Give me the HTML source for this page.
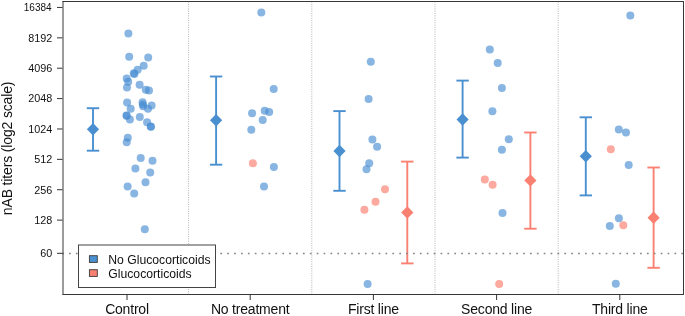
<!DOCTYPE html><html><head><meta charset="utf-8"><style>html,body{margin:0;padding:0;background:#fff;}svg{display:block;}text{font-family:"Liberation Sans",sans-serif;}</style></head><body>
<div style="will-change:transform;width:685px;height:316px"><svg width="685" height="316" viewBox="0 0 685 316">
<rect width="685" height="316" fill="#fff"/>
<line x1="188.6" y1="1.5" x2="188.6" y2="294" stroke="#b4b4b4" stroke-width="1" stroke-dasharray="1 1.3"/>
<line x1="311.8" y1="1.5" x2="311.8" y2="294" stroke="#b4b4b4" stroke-width="1" stroke-dasharray="1 1.3"/>
<line x1="435.0" y1="1.5" x2="435.0" y2="294" stroke="#b4b4b4" stroke-width="1" stroke-dasharray="1 1.3"/>
<line x1="558.2" y1="1.5" x2="558.2" y2="294" stroke="#b4b4b4" stroke-width="1" stroke-dasharray="1 1.3"/>
<circle cx="128.40" cy="33.60" r="4" fill="rgba(72,142,210,0.65)"/>
<circle cx="129.20" cy="56.80" r="4" fill="rgba(72,142,210,0.65)"/>
<circle cx="148.20" cy="57.60" r="4" fill="rgba(72,142,210,0.65)"/>
<circle cx="143.70" cy="65.80" r="4" fill="rgba(72,142,210,0.65)"/>
<circle cx="137.60" cy="69.80" r="4" fill="rgba(72,142,210,0.65)"/>
<circle cx="133.80" cy="73.20" r="4" fill="rgba(72,142,210,0.65)"/>
<circle cx="134.40" cy="74.00" r="4" fill="rgba(72,142,210,0.65)"/>
<circle cx="126.70" cy="78.40" r="4" fill="rgba(72,142,210,0.65)"/>
<circle cx="128.20" cy="81.70" r="4" fill="rgba(72,142,210,0.65)"/>
<circle cx="127.00" cy="87.40" r="4" fill="rgba(72,142,210,0.65)"/>
<circle cx="139.60" cy="84.70" r="4" fill="rgba(72,142,210,0.65)"/>
<circle cx="145.80" cy="89.70" r="4" fill="rgba(72,142,210,0.65)"/>
<circle cx="149.00" cy="90.50" r="4" fill="rgba(72,142,210,0.65)"/>
<circle cx="127.10" cy="102.50" r="4" fill="rgba(72,142,210,0.65)"/>
<circle cx="130.70" cy="108.80" r="4" fill="rgba(72,142,210,0.65)"/>
<circle cx="142.60" cy="102.20" r="4" fill="rgba(72,142,210,0.65)"/>
<circle cx="142.80" cy="104.50" r="4" fill="rgba(72,142,210,0.65)"/>
<circle cx="143.20" cy="106.30" r="4" fill="rgba(72,142,210,0.65)"/>
<circle cx="148.00" cy="108.70" r="4" fill="rgba(72,142,210,0.65)"/>
<circle cx="151.60" cy="105.60" r="4" fill="rgba(72,142,210,0.65)"/>
<circle cx="126.50" cy="115.40" r="4" fill="rgba(72,142,210,0.65)"/>
<circle cx="126.70" cy="115.70" r="4" fill="rgba(72,142,210,0.65)"/>
<circle cx="129.90" cy="119.60" r="4" fill="rgba(72,142,210,0.65)"/>
<circle cx="139.80" cy="117.00" r="4" fill="rgba(72,142,210,0.65)"/>
<circle cx="147.10" cy="122.30" r="4" fill="rgba(72,142,210,0.65)"/>
<circle cx="150.80" cy="126.60" r="4" fill="rgba(72,142,210,0.65)"/>
<circle cx="150.90" cy="126.70" r="4" fill="rgba(72,142,210,0.65)"/>
<circle cx="127.80" cy="137.80" r="4" fill="rgba(72,142,210,0.65)"/>
<circle cx="126.70" cy="142.20" r="4" fill="rgba(72,142,210,0.65)"/>
<circle cx="140.70" cy="158.10" r="4" fill="rgba(72,142,210,0.65)"/>
<circle cx="152.50" cy="160.70" r="4" fill="rgba(72,142,210,0.65)"/>
<circle cx="135.40" cy="168.40" r="4" fill="rgba(72,142,210,0.65)"/>
<circle cx="150.20" cy="172.40" r="4" fill="rgba(72,142,210,0.65)"/>
<circle cx="145.50" cy="182.30" r="4" fill="rgba(72,142,210,0.65)"/>
<circle cx="127.60" cy="186.50" r="4" fill="rgba(72,142,210,0.65)"/>
<circle cx="134.20" cy="193.40" r="4" fill="rgba(72,142,210,0.65)"/>
<circle cx="144.80" cy="229.30" r="4" fill="rgba(72,142,210,0.65)"/>
<circle cx="261.30" cy="12.50" r="4" fill="rgba(72,142,210,0.65)"/>
<circle cx="273.70" cy="89.00" r="4" fill="rgba(72,142,210,0.65)"/>
<circle cx="252.10" cy="113.20" r="4" fill="rgba(72,142,210,0.65)"/>
<circle cx="264.70" cy="110.80" r="4" fill="rgba(72,142,210,0.65)"/>
<circle cx="269.20" cy="111.90" r="4" fill="rgba(72,142,210,0.65)"/>
<circle cx="262.70" cy="120.00" r="4" fill="rgba(72,142,210,0.65)"/>
<circle cx="251.30" cy="129.80" r="4" fill="rgba(72,142,210,0.65)"/>
<circle cx="273.90" cy="167.10" r="4" fill="rgba(72,142,210,0.65)"/>
<circle cx="264.00" cy="186.60" r="4" fill="rgba(72,142,210,0.65)"/>
<circle cx="370.80" cy="61.80" r="4" fill="rgba(72,142,210,0.65)"/>
<circle cx="368.60" cy="98.90" r="4" fill="rgba(72,142,210,0.65)"/>
<circle cx="372.40" cy="139.40" r="4" fill="rgba(72,142,210,0.65)"/>
<circle cx="377.10" cy="146.80" r="4" fill="rgba(72,142,210,0.65)"/>
<circle cx="369.20" cy="163.30" r="4" fill="rgba(72,142,210,0.65)"/>
<circle cx="366.50" cy="169.20" r="4" fill="rgba(72,142,210,0.65)"/>
<circle cx="367.60" cy="283.90" r="4" fill="rgba(72,142,210,0.65)"/>
<circle cx="489.80" cy="49.40" r="4" fill="rgba(72,142,210,0.65)"/>
<circle cx="497.70" cy="62.90" r="4" fill="rgba(72,142,210,0.65)"/>
<circle cx="501.90" cy="88.00" r="4" fill="rgba(72,142,210,0.65)"/>
<circle cx="492.40" cy="111.20" r="4" fill="rgba(72,142,210,0.65)"/>
<circle cx="508.80" cy="139.30" r="4" fill="rgba(72,142,210,0.65)"/>
<circle cx="501.90" cy="149.70" r="4" fill="rgba(72,142,210,0.65)"/>
<circle cx="502.50" cy="212.90" r="4" fill="rgba(72,142,210,0.65)"/>
<circle cx="630.30" cy="15.40" r="4" fill="rgba(72,142,210,0.65)"/>
<circle cx="618.80" cy="129.40" r="4" fill="rgba(72,142,210,0.65)"/>
<circle cx="626.00" cy="132.40" r="4" fill="rgba(72,142,210,0.65)"/>
<circle cx="628.70" cy="165.10" r="4" fill="rgba(72,142,210,0.65)"/>
<circle cx="618.90" cy="218.20" r="4" fill="rgba(72,142,210,0.65)"/>
<circle cx="609.80" cy="226.00" r="4" fill="rgba(72,142,210,0.65)"/>
<circle cx="615.80" cy="283.70" r="4" fill="rgba(72,142,210,0.65)"/>
<circle cx="252.90" cy="163.30" r="4" fill="rgba(250,128,114,0.68)"/>
<circle cx="385.00" cy="189.20" r="4" fill="rgba(250,128,114,0.68)"/>
<circle cx="375.50" cy="201.80" r="4" fill="rgba(250,128,114,0.68)"/>
<circle cx="364.40" cy="209.80" r="4" fill="rgba(250,128,114,0.68)"/>
<circle cx="484.80" cy="179.50" r="4" fill="rgba(250,128,114,0.68)"/>
<circle cx="492.60" cy="184.80" r="4" fill="rgba(250,128,114,0.68)"/>
<circle cx="499.20" cy="283.90" r="4" fill="rgba(250,128,114,0.68)"/>
<circle cx="610.80" cy="149.30" r="4" fill="rgba(250,128,114,0.68)"/>
<circle cx="623.30" cy="225.20" r="4" fill="rgba(250,128,114,0.68)"/>
<g stroke="#4a90d0" stroke-width="1.9" fill="none"><line x1="93.0" y1="108.2" x2="93.0" y2="150.7"/><line x1="86.8" y1="108.2" x2="99.2" y2="108.2"/><line x1="86.8" y1="150.7" x2="99.2" y2="150.7"/></g>
<path d="M86.9 129.3 L93.0 123.1 L99.1 129.3 L93.0 135.5 Z" fill="#4a90d0"/>
<g stroke="#4a90d0" stroke-width="1.9" fill="none"><line x1="216.1" y1="76.5" x2="216.1" y2="164.7"/><line x1="209.9" y1="76.5" x2="222.29999999999998" y2="76.5"/><line x1="209.9" y1="164.7" x2="222.29999999999998" y2="164.7"/></g>
<path d="M210.0 120.3 L216.1 114.1 L222.2 120.3 L216.1 126.5 Z" fill="#4a90d0"/>
<g stroke="#4a90d0" stroke-width="1.9" fill="none"><line x1="339.5" y1="111.1" x2="339.5" y2="190.8"/><line x1="333.3" y1="111.1" x2="345.7" y2="111.1"/><line x1="333.3" y1="190.8" x2="345.7" y2="190.8"/></g>
<path d="M333.4 151.0 L339.5 144.8 L345.6 151.0 L339.5 157.2 Z" fill="#4a90d0"/>
<g stroke="#4a90d0" stroke-width="1.9" fill="none"><line x1="462.6" y1="80.6" x2="462.6" y2="157.6"/><line x1="456.40000000000003" y1="80.6" x2="468.8" y2="80.6"/><line x1="456.40000000000003" y1="157.6" x2="468.8" y2="157.6"/></g>
<path d="M456.5 119.5 L462.6 113.3 L468.7 119.5 L462.6 125.7 Z" fill="#4a90d0"/>
<g stroke="#4a90d0" stroke-width="1.9" fill="none"><line x1="585.8" y1="117.3" x2="585.8" y2="195.4"/><line x1="579.5999999999999" y1="117.3" x2="592.0" y2="117.3"/><line x1="579.5999999999999" y1="195.4" x2="592.0" y2="195.4"/></g>
<path d="M579.7 156.2 L585.8 150.0 L591.9 156.2 L585.8 162.4 Z" fill="#4a90d0"/>
<g stroke="#fa8072" stroke-width="1.9" fill="none"><line x1="407.3" y1="161.6" x2="407.3" y2="263.4"/><line x1="401.1" y1="161.6" x2="413.5" y2="161.6"/><line x1="401.1" y1="263.4" x2="413.5" y2="263.4"/></g>
<path d="M401.2 212.5 L407.3 206.3 L413.4 212.5 L407.3 218.7 Z" fill="#fa8072"/>
<g stroke="#fa8072" stroke-width="1.9" fill="none"><line x1="530.4" y1="132.5" x2="530.4" y2="228.7"/><line x1="524.1999999999999" y1="132.5" x2="536.6" y2="132.5"/><line x1="524.1999999999999" y1="228.7" x2="536.6" y2="228.7"/></g>
<path d="M524.3 180.4 L530.4 174.2 L536.5 180.4 L530.4 186.6 Z" fill="#fa8072"/>
<g stroke="#fa8072" stroke-width="1.9" fill="none"><line x1="653.6" y1="167.5" x2="653.6" y2="267.8"/><line x1="647.4" y1="167.5" x2="659.8000000000001" y2="167.5"/><line x1="647.4" y1="267.8" x2="659.8000000000001" y2="267.8"/></g>
<path d="M647.5 217.7 L653.6 211.5 L659.7 217.7 L653.6 223.9 Z" fill="#fa8072"/>
<line x1="62.15" y1="253.5" x2="683" y2="253.5" stroke="#858585" stroke-width="1.3" stroke-dasharray="1.7 5.18"/>
<rect x="78.5" y="245" width="137" height="42.5" fill="#fff" stroke="#444" stroke-width="1"/>
<rect x="89.4" y="255.7" width="7.9" height="6.7" fill="#4a90d0" stroke="#3a3a3a" stroke-width="0.9"/>
<rect x="89.4" y="269.7" width="7.9" height="6.7" fill="#fa8072" stroke="#3a3a3a" stroke-width="0.9"/>
<text x="108.3" y="263.6" font-size="12.2" fill="#111">No Glucocorticoids</text>
<text x="108.3" y="277.6" font-size="12.2" fill="#111">Glucocorticoids</text>
<g stroke="#383838" stroke-width="1" fill="none"><line x1="62.5" y1="1.5" x2="684" y2="1.5"/><line x1="683.5" y1="1" x2="683.5" y2="295"/><line x1="62.5" y1="294.5" x2="684" y2="294.5"/><line x1="63" y1="1" x2="63" y2="295"/></g>
<line x1="57" y1="7.45" x2="62.5" y2="7.45" stroke="#333" stroke-width="1"/>
<text x="51.6" y="11.35" font-size="10.0" text-anchor="end" fill="#111">16384</text>
<line x1="57" y1="37.83" x2="62.5" y2="37.83" stroke="#333" stroke-width="1"/>
<text x="52.3" y="41.73" font-size="10.8" text-anchor="end" fill="#111">8192</text>
<line x1="57" y1="68.21" x2="62.5" y2="68.21" stroke="#333" stroke-width="1"/>
<text x="52.3" y="72.11" font-size="10.8" text-anchor="end" fill="#111">4096</text>
<line x1="57" y1="98.59" x2="62.5" y2="98.59" stroke="#333" stroke-width="1"/>
<text x="52.3" y="102.49" font-size="10.8" text-anchor="end" fill="#111">2048</text>
<line x1="57" y1="128.97" x2="62.5" y2="128.97" stroke="#333" stroke-width="1"/>
<text x="52.3" y="132.87" font-size="10.8" text-anchor="end" fill="#111">1024</text>
<line x1="57" y1="159.35" x2="62.5" y2="159.35" stroke="#333" stroke-width="1"/>
<text x="52.3" y="163.25" font-size="10.8" text-anchor="end" fill="#111">512</text>
<line x1="57" y1="189.73" x2="62.5" y2="189.73" stroke="#333" stroke-width="1"/>
<text x="52.3" y="193.63" font-size="10.8" text-anchor="end" fill="#111">256</text>
<line x1="57" y1="220.11" x2="62.5" y2="220.11" stroke="#333" stroke-width="1"/>
<text x="52.3" y="224.01" font-size="10.8" text-anchor="end" fill="#111">128</text>
<line x1="57" y1="253.32" x2="62.5" y2="253.32" stroke="#333" stroke-width="1"/>
<text x="52.3" y="257.22" font-size="10.8" text-anchor="end" fill="#111">60</text>
<line x1="127.0" y1="294.5" x2="127.0" y2="300" stroke="#333" stroke-width="1"/>
<text x="127.0" y="314.1" font-size="14" letter-spacing="-0.2" text-anchor="middle" fill="#111">Control</text>
<line x1="250.2" y1="294.5" x2="250.2" y2="300" stroke="#333" stroke-width="1"/>
<text x="250.2" y="314.1" font-size="14" letter-spacing="-0.2" text-anchor="middle" fill="#111">No treatment</text>
<line x1="373.4" y1="294.5" x2="373.4" y2="300" stroke="#333" stroke-width="1"/>
<text x="373.4" y="314.1" font-size="14" letter-spacing="-0.2" text-anchor="middle" fill="#111">First line</text>
<line x1="496.6" y1="294.5" x2="496.6" y2="300" stroke="#333" stroke-width="1"/>
<text x="496.6" y="314.1" font-size="14" letter-spacing="-0.2" text-anchor="middle" fill="#111">Second line</text>
<line x1="619.8" y1="294.5" x2="619.8" y2="300" stroke="#333" stroke-width="1"/>
<text x="619.8" y="314.1" font-size="14" letter-spacing="-0.2" text-anchor="middle" fill="#111">Third line</text>
<text transform="translate(12.0,148.4) rotate(-90)" font-size="14" letter-spacing="-0.15" text-anchor="middle" fill="#111">nAB titers (log2 scale)</text>
</svg></div></body></html>
